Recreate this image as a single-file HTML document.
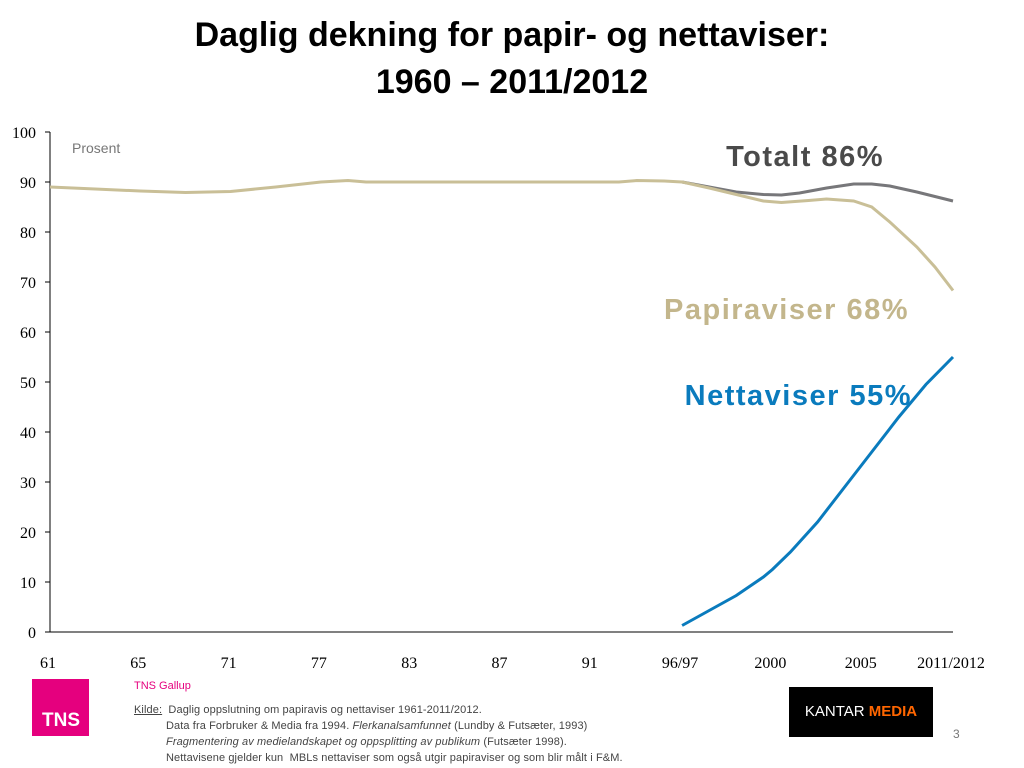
<!DOCTYPE html>
<html><head><meta charset="utf-8"><style>
body{margin:0;width:1024px;height:768px;background:#fff;overflow:hidden;position:relative;font-family:"Liberation Sans",sans-serif}
.t{position:absolute}
</style></head><body>
<div class="t" style="left:0;width:1024px;top:12px;text-align:center;font-size:34px;font-weight:bold;line-height:47px;font-family:'Liberation Sans Narrow','Liberation Sans',sans-serif">Daglig dekning for papir- og nettaviser:<br>1960 – 2011/2012</div>
<svg id="c" width="1024" height="680" style="position:absolute;left:0;top:0"></svg>
<div class="t" style="left:32px;top:679px;width:57px;height:57px;background:#e5007e;color:#fff;font-weight:bold;font-size:19px"><span style="position:absolute;left:10px;bottom:4px">TNS</span></div>
<div class="t" style="left:134px;top:680px;font-size:11px;color:#e5007e">TNS Gallup</div>
<div class="t" style="left:134px;top:702px;font-size:11px;color:#444;line-height:16px;letter-spacing:0.1px">
<div><u>Kilde:</u>&nbsp; Daglig oppslutning om papiravis og nettaviser 1961-2011/2012.</div>
<div style="padding-left:32px">Data fra Forbruker &amp; Media fra 1994. <i>Flerkanalsamfunnet</i> (Lundby &amp; Futsæter, 1993)</div>
<div style="padding-left:32px"><i>Fragmentering av medielandskapet og oppsplitting av publikum</i> (Futsæter 1998).</div>
<div style="padding-left:32px">Nettavisene gjelder kun&nbsp; MBLs nettaviser som også utgir papiraviser og som blir målt i F&amp;M.</div></div>
<div class="t" style="left:789px;top:687px;width:144px;height:50px;background:#000;color:#fff;font-size:15px;line-height:50px;text-align:center">KANTAR <b style="color:#f60">MEDIA</b></div>
<div class="t" style="left:953px;top:727px;font-size:12px;color:#777">3</div>
<script>
const xLabels=["61","65","71","77","83","87","91","96/97","2000","2005","2011/2012"];
const yTicks=[0,10,20,30,40,50,60,70,80,90,100];
const papirX=[0,0.5,1,1.5,2,2.5,3,3.3,3.5,4,5,6,6.3,6.5,6.8,7,7.3,7.6,7.9,8.1,8.4,8.6,8.9,9.1,9.3,9.6,9.8,10];
const papirY=[89,88.6,88.2,87.9,88.1,89,90,90.3,90,90,90,90,90,90.3,90.2,90,88.8,87.5,86.2,85.9,86.3,86.6,86.2,85,82,77,73,68.3];
const totalX=[7,7.3,7.6,7.9,8.1,8.3,8.6,8.9,9.1,9.3,9.6,10];
const totalY=[90,89,88,87.5,87.4,87.8,88.8,89.6,89.6,89.2,88,86.2];
const nettX=[7,7.3,7.6,7.9,8,8.2,8.5,8.8,9.1,9.4,9.7,10];
const nettY=[1.3,4.3,7.3,11,12.5,16,22,29,36,43,49.5,55];
const svg=document.getElementById('c'),NS='http://www.w3.org/2000/svg';
const X=i=>50+i*90.3, Y=v=>632-v*5;
function mk(t,a,p){const e=document.createElementNS(NS,t);for(const k in a)e.setAttribute(k,a[k]);(p||svg).appendChild(e);return e;}
let ax=mk('line',{x1:50,y1:132,x2:50,y2:632,stroke:'#000'});

let bx=mk('line',{x1:50,y1:632,x2:953,y2:632,stroke:'#000'});

yTicks.forEach(v=>{mk('line',{x1:45,x2:50,y1:Y(v),y2:Y(v),stroke:'#000'});
 const t=mk('text',{x:36,y:Y(v)+6,'text-anchor':'end','font-size':16,'font-family':'Liberation Serif'});t.textContent=v;
 });
xLabels.forEach((l,i)=>{const t=mk('text',{x:X(i)-2,y:668,'text-anchor':'middle','font-size':16,'font-family':'Liberation Serif'});t.textContent=l;
 });
function line(xs,ys,c,n){const d=xs.map((x,i)=>(i?'L':'M')+X(x)+','+Y(ys[i])).join('');
 const p=mk('path',{d:d,fill:'none',stroke:c,'stroke-width':3});}
line(totalX,totalY,'#77777a','totalt-line');
line(papirX,papirY,'#c9bf97','papiraviser-line');
line(nettX,nettY,'#0a7bbd','nettaviser-line');
function lab(x,y,s,c,n){const t=mk('text',{x:x,y:y,'text-anchor':'end','font-size':29,'font-weight':'bold','letter-spacing':1.5,fill:c});t.textContent=s;
 }
lab(884,166,'Totalt 86%','#4a4a4a','totalt-label');
lab(909,319,'Papiraviser 68%','#c3b68c','papiraviser-label');
lab(912,405,'Nettaviser 55%','#0a7bbd','nettaviser-label');
const p=mk('text',{x:72,y:153,'font-size':14,fill:'#777'});p.textContent='Prosent';

</script>
</body></html>
